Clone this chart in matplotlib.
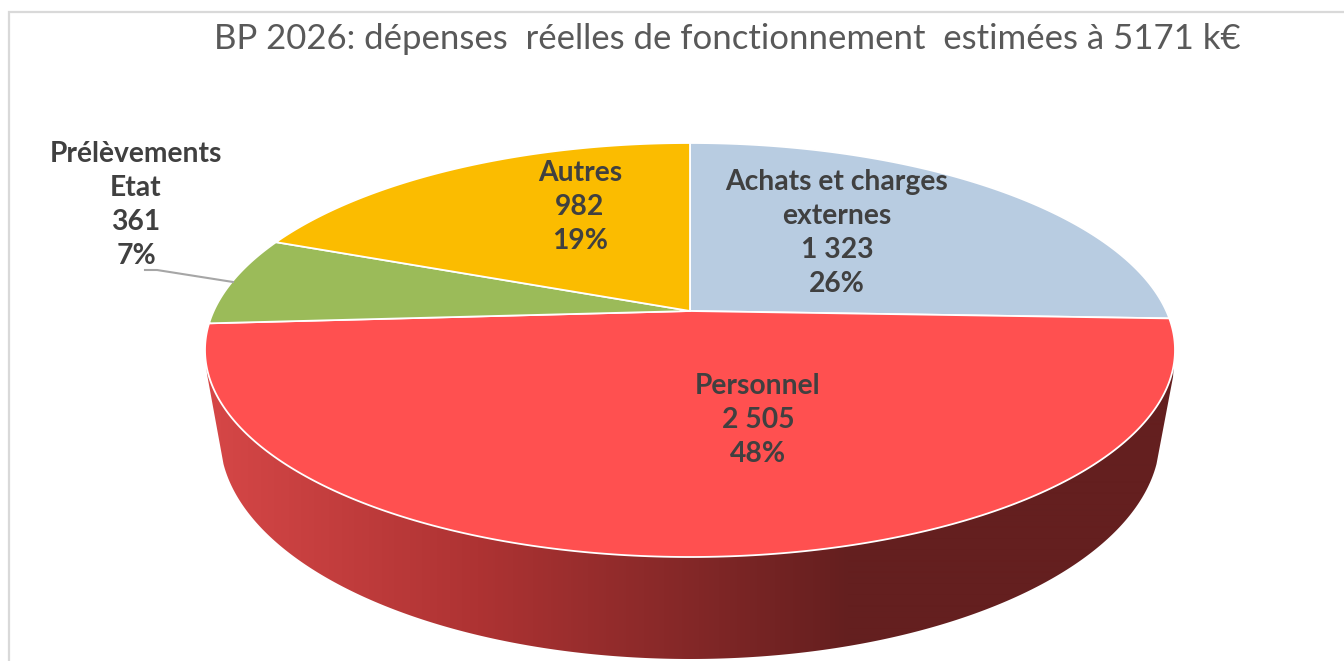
import numpy as np
import matplotlib
matplotlib.use("Agg")
import matplotlib.pyplot as plt
from matplotlib.patches import Polygon
from matplotlib.colors import LinearSegmentedColormap

# Data
title = "BP 2026: dépenses  réelles de fonctionnement  estimées à 5171 k€"
categories = ["Achats et charges\nexternes", "Personnel", "Prélèvements\nEtat", "Autres"]
values = [1323, 2505, 361, 982]
value_labels = ["1 323", "2 505", "361", "982"]
colors = ["#B8CCE1", "#FF5050", "#9BBB59", "#FBBC00"]

# Layout (pixels of the 1344x661 canvas)
label_pos = [(837, 233), (758, 420), (136, 205), (580, 207)]
CX, CY, RX, RY, APEX = 690.0, 350.0, 485.0, 207.0, 39.0
BX, BY, BRX, BRY = 690.0, 437.0, 470.0, 222.0

plt.rcParams['font.family'] = ['Lato', 'DejaVu Sans']
fig = plt.figure(figsize=(13.44, 6.61), dpi=100)
ax = fig.add_axes([0, 0, 1, 1])
ax.set_xlim(0, 1344)
ax.set_ylim(661, 0)
ax.axis('off')


def project(theta):
    """Perspective view of a pie disc: theta is clockwise from 12 o'clock."""
    k = APEX / RY
    a = RX * np.sqrt(1 - k ** 2)
    d = 1 + k * np.cos(theta)
    return CX + a * np.sin(theta) / d, CY - (RY * np.cos(theta) + APEX) / d


# Frame
ax.plot([9, 9, 1344], [661, 12, 12], color="#D9D9D9", lw=1.6, solid_joinstyle='miter')

# Side wall with its gradient
a0 = np.arcsin(27 / BRY)
lo = np.linspace(np.pi - a0, a0, 361)
wall = [(207, 374)]
wall += list(zip(BX + BRX * np.cos(lo), BY + BRY * np.sin(lo)))
wall += [(1173, 377)]
up = np.linspace(0, np.pi, 361)
wall += list(zip(CX + RX * np.cos(up), CY + RY * np.sin(up)))
wall_patch = Polygon(wall, closed=True, fc='none', ec='none')
ax.add_patch(wall_patch)
cmap = LinearSegmentedColormap.from_list(
    "wall", [(0, "#D64747"), (0.42, "#AE3333"), (1, "#641F1F")])
x = np.arange(200, 1180)
gv = np.clip((x - 205) / (850 - 205), 0, 1)[None, :]
im = ax.imshow(gv, extent=(200, 1180, 661, 300), cmap=cmap, vmin=0, vmax=1,
               aspect='auto', zorder=1, interpolation='bilinear')
im.set_clip_path(wall_patch)
ax.set_xlim(0, 1344)
ax.set_ylim(661, 0)

# Slices
total = sum(values)
edges = np.cumsum([0] + values) / total * 2 * np.pi
for i, (v, c) in enumerate(zip(values, colors)):
    th = np.linspace(edges[i], edges[i + 1], 240)
    px, py = project(th)
    pts = [(CX, CY - APEX)] + list(zip(px, py))
    ax.add_patch(Polygon(pts, closed=True, fc=c, ec='white', lw=1.3, zorder=2,
                         joinstyle='round'))

# Leader line
ax.plot([145, 157, 233], [270, 270, 282], color="#A6A6A6", lw=1.5, zorder=3)

# Labels
for cat, vl, v, (lx, ly) in zip(categories, value_labels, values, label_pos):
    ax.text(lx, ly, f"{cat}\n{vl}\n{round(v / total * 100)}%", ha='center', va='center',
            multialignment='center', fontsize=20.3, fontweight='bold', color="#404040",
            linespacing=1.38, zorder=4)

ax.text(727, 39, title, ha='center', va='center', fontsize=25, color="#595959", zorder=4)

fig.savefig("out.png", dpi=100)
